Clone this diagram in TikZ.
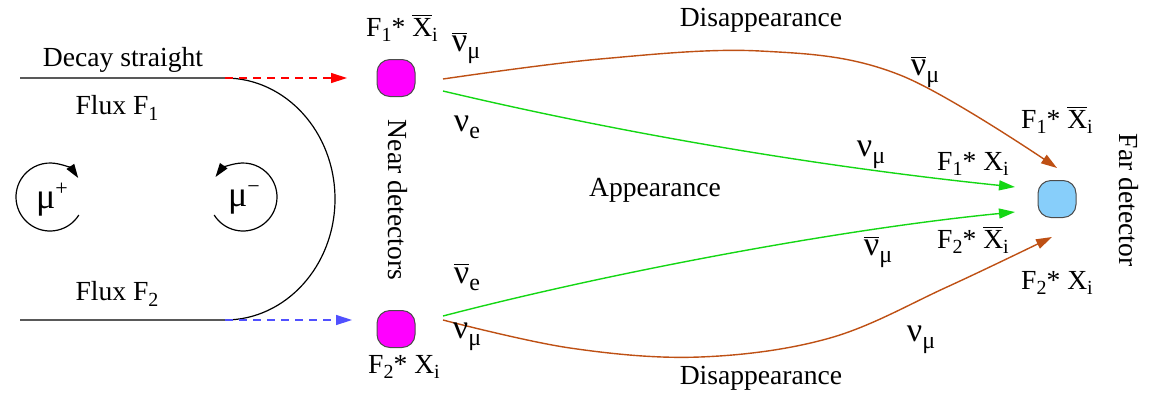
\documentclass[tikz,border=0pt]{standalone}
\usepackage{fontspec}
\setmainfont{Liberation Serif}
\usetikzlibrary{arrows.meta,calc}
\definecolor{brn}{RGB}{190,80,20}
\definecolor{grn}{RGB}{20,215,20}
\definecolor{magb}{RGB}{255,0,255}
\definecolor{skyb}{RGB}{135,206,250}
\definecolor{dashblue}{RGB}{80,80,255}
\newcommand\mysub[1]{\raisebox{-0.45ex}{\fontsize{10}{10}\selectfont #1}}
\newcommand\gsub[1]{\raisebox{-0.45ex}{\fontsize{12}{12}\selectfont #1}}
\newcommand\mysup[1]{\raisebox{0.8ex}{\fontsize{11}{11}\selectfont #1}}
\newcommand\barnu{$\overline{\hbox{ν}}$}
\newcommand\barX{$\overline{\hbox{X}}$}
\begin{document}
\begin{tikzpicture}[x=0.5pt,y=-0.5pt,
  lbl/.style={font=\fontsize{13.8}{16}\selectfont, inner sep=0pt},
  nu/.style={font=\fontsize{17}{18}\selectfont, inner sep=0pt},
  det/.style={draw=black!70, line width=0.5pt, rounded corners=6.5pt, minimum width=19pt, minimum height=18.5pt, inner sep=0pt},
  beam/.style={line width=0.6pt, black},
  flow/.style={line width=0.7pt, -{Triangle[length=8pt,width=5pt]}},
  inj/.style={line width=0.7pt, dash pattern=on 4pt off 3pt, -{Triangle[length=8pt,width=5pt]}},
  spin/.style={line width=0.6pt, -{Triangle[length=7pt,width=4.5pt]}}]
\useasboundingbox (0,0) rectangle (1153,392);

% storage ring
\coordinate (b1s) at (20,78);
\coordinate (b1e) at (225,78);
\coordinate (b2e) at (225,320);
\coordinate (b2s) at (20,320);
\draw[beam] (b1s) -- (b1e) arc[start angle=90, end angle=-90, x radius=55pt, y radius=60.5pt] -- (b2s);

\node[lbl] (decay) at (123,60) {Decay straight};
\node[lbl] (flux1) at (117,108) {Flux F\mysub{1}};
\node[lbl] (flux2) at (117,294) {Flux F\mysub{2}};

% muon circulation
\coordinate (mup) at (50,197);
\coordinate (mum) at (243,197);
\draw[spin] ($(mup)+(-32:17pt)$) arc[start angle=-32, end angle=-326, radius=17pt];
\draw[spin] ($(mum)+(212:17pt)$) arc[start angle=212, end angle=504, radius=17pt];
\node[font=\fontsize{18}{18}\selectfont, inner sep=0pt] (mupl) at (52,200) {μ\mysup{+}};
\node[font=\fontsize{18}{18}\selectfont, inner sep=0pt] (muml) at (244,200) {μ\mysup{−}};

% detectors
\node[det, fill=magb] (near1) at (396,78) {};
\node[det, fill=magb] (near2) at (396,329) {};
\node[det, fill=skyb] (far) at (1057,199) {};

\node[lbl] (f1n) at (402,28) {F\mysub{1}* \barX\mysub{i}};
\node[lbl] (f2n) at (404,367) {F\mysub{2}* X\mysub{i}};
\node[lbl, rotate=-90] (neartxt) at (398,200) {Near detectors};
\node[lbl, rotate=-90] (fartxt) at (1129,200) {Far detector};

% injection arrows
\coordinate (r1) at (347,78);
\coordinate (r2) at (352,320);
\draw[inj, red] (b1e) -- (r1);
\draw[inj, dashblue] (b2e) -- (r2);

% flows
\coordinate (s1) at (443,79);
\coordinate (s2) at (443,91);
\coordinate (s3) at (443,316);
\coordinate (s4) at (443,320);
\coordinate (t1) at (1057,168);
\coordinate (t2) at (1015,187);
\coordinate (t3) at (1015,212);
\coordinate (t4) at (1052,237);
\draw[flow, brn] plot[smooth, tension=0.6] coordinates {(s1) (600,59) (760,51) (900,75) (t1)};
\draw[flow, grn] (s2) .. controls (650,140) and (850,170) .. (t2);
\draw[flow, grn] (s3) .. controls (620,270) and (850,228) .. (t3);
\draw[flow, brn] plot[smooth, tension=0.6] coordinates {(s4) (570,348) (700,357) (830,338) (947,287) (t4)};

% labels
\node[nu] (l1) at (466,48) {\barnu\gsub{μ}};
\node[nu] (l2) at (467,127) {ν\gsub{e}};
\node[nu] (l3) at (467,277) {\barnu\gsub{e}};
\node[nu] (l4) at (467,337) {ν\gsub{μ}};
\node[nu] (l5) at (925,72) {\barnu\gsub{μ}};
\node[nu] (l6) at (871,155) {ν\gsub{μ}};
\node[nu] (l7) at (878,252) {\barnu\gsub{μ}};
\node[nu] (l8) at (921,340) {ν\gsub{μ}};

\node[lbl] (f1fb) at (1057,120) {F\mysub{1}* \barX\mysub{i}};
\node[lbl] (f1f) at (973,164) {F\mysub{1}* X\mysub{i}};
\node[lbl] (f2fb) at (973,240) {F\mysub{2}* \barX\mysub{i}};
\node[lbl] (f2f) at (1057,283) {F\mysub{2}* X\mysub{i}};

\node[lbl] (app) at (655,190) {Appearance};
\node[lbl] (dis1) at (761,20) {Disappearance};
\node[lbl] (dis2) at (761,378) {Disappearance};
\end{tikzpicture}
\end{document}
